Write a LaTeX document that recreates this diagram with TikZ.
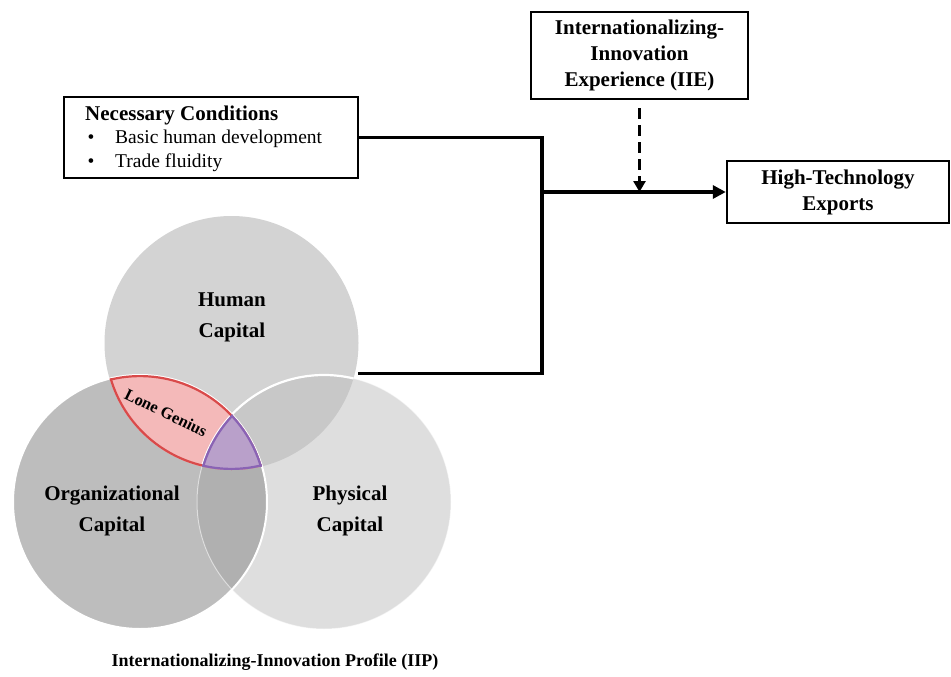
\documentclass[tikz,border=0pt]{standalone}
\usepackage{fontspec}
\setmainfont{Liberation Serif}
\usetikzlibrary{arrows.meta}
\definecolor{humc}{HTML}{D3D3D3}
\definecolor{orgc}{HTML}{BDBDBD}
\definecolor{phyc}{HTML}{DEDEDE}
\definecolor{hpc}{HTML}{C8C8C8}
\definecolor{opc}{HTML}{B0B0B0}
\definecolor{lensfill}{HTML}{F4B9B9}
\definecolor{lensred}{HTML}{D94A4A}
\definecolor{trifill}{HTML}{B9A0CA}
\definecolor{tribord}{HTML}{8A63B4}
\tikzset{
  boxst/.style={draw, line width=2.4pt, inner sep=0pt, fill=white},
  conn/.style={line width=3.2pt},
  tipst/.style={-{Triangle[length=13pt,width=13pt]}},
  blab/.style={font=\fontsize{21}{26}\selectfont\bfseries, align=center},
  clab/.style={font=\fontsize{21}{31}\selectfont\bfseries, align=center, inner sep=0pt},
  rlab/.style={font=\fontsize{19.5}{24}\selectfont, inner sep=0pt},
  ghost/.style={circle, minimum size=254pt, inner sep=0pt},
}
\begin{document}
\begin{tikzpicture}[x=1pt,y=-1pt]
\useasboundingbox (0,0) rectangle (951,677);

% circles
\node[ghost, fill=humc] (hum) at (231.5,343) {};
\node[ghost, fill=orgc] (org) at (140,502) {};
\node[ghost, fill=phyc] (phy) at (324,502) {};

\begin{scope}
  \clip (231.5,343) circle[radius=127pt];
  \fill[hpc] (324,502) circle[radius=127pt];
\end{scope}
\begin{scope}
  \clip (140,502) circle[radius=127pt];
  \fill[opc] (324,502) circle[radius=127pt];
\end{scope}
\begin{scope}
  \clip (231.5,343) circle[radius=127pt];
  \fill[lensfill] (140,502) circle[radius=127pt];
\end{scope}

% white outlines
\draw[white, opacity=0.5, line width=1pt] (324,502) circle[radius=127pt];
\begin{scope}
  \clip (231.5,343) circle[radius=127pt];
  \draw[white, line width=2.2pt] (324,502) circle[radius=127pt];
\end{scope}
\draw[white, line width=2pt] (140,502) circle[radius=127pt];

% lone genius lens
\begin{scope}
  \clip (231.5,343) circle[radius=127pt];
  \clip (140,502) circle[radius=127pt];
  \draw[lensred, line width=4.4pt] (231.5,343) circle[radius=127pt];
  \draw[lensred, line width=4.4pt] (140,502) circle[radius=127pt];
\end{scope}
% triple intersection
\begin{scope}
  \clip (231.5,343) circle[radius=127pt];
  \clip (140,502) circle[radius=127pt];
  \clip (324,502) circle[radius=127pt];
  \fill[trifill] (231.5,343) circle[radius=127pt];
  \draw[tribord, line width=4.4pt] (231.5,343) circle[radius=127pt];
  \draw[tribord, line width=4.4pt] (140,502) circle[radius=127pt];
  \draw[tribord, line width=4.4pt] (324,502) circle[radius=127pt];
\end{scope}

% circle labels
\node[clab] (humt) at (232,317) {Human\\Capital};
\node[clab] (orgt) at (112,511) {Organizational\\Capital};
\node[clab] (phyt) at (350,511) {Physical\\Capital};
\node[font=\fontsize{16.5}{20}\selectfont\bfseries, rotate=-26, inner sep=0pt] (lone) at (166,413) {Lone Genius};
\node[font=\fontsize{18}{22}\selectfont\bfseries, inner sep=0pt] (iip) at (275,662) {Internationalizing-Innovation Profile (IIP)};

% boxes
\node[boxst, minimum width=294pt, minimum height=81pt] (nc) at (211,137.5) {};
\node[anchor=west, inner sep=0pt, font=\fontsize{21}{26}\selectfont\bfseries] (nct) at (85,115) {Necessary Conditions};
\node[rlab] (bu1) at (91,139) {\textbullet};
\node[rlab, anchor=west] (bt1) at (115,139) {Basic human development};
\node[rlab] (bu2) at (91,163) {\textbullet};
\node[rlab, anchor=west] (bt2) at (115,163) {Trade fluidity};

\node[boxst, blab, minimum width=217pt, minimum height=87pt] (iie) at (639.5,55.5) {Internationalizing-\\Innovation\\Experience (IIE)};
\node[boxst, blab, minimum width=222pt, minimum height=62pt] (hte) at (838,192) {High-Technology\\Exports};

% connectors
\coordinate (j) at (542,192);
\coordinate (hb) at ([xshift=3pt]hum.-14);
\draw[conn] (nc.east) -| (j) |- (hb);
\draw[conn, tipst] (j) -- (hte.west);
\draw[line width=2.6pt, dash pattern=on 11pt off 6pt, -{Triangle[length=11pt,width=12pt]}, shorten <=8pt] (iie.south) -- (iie.south |- j);
\end{tikzpicture}
\end{document}
